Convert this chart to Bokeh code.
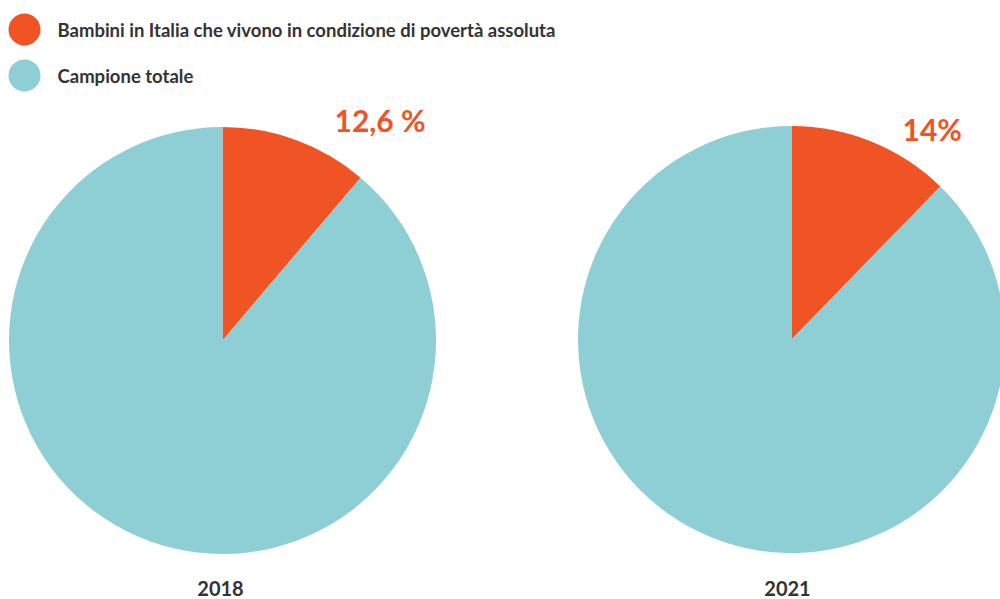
import math
from bokeh.plotting import figure
from bokeh.models import Range1d, ColumnDataSource
from bokeh.core.properties import value
from bokeh.embed import file_html
from bokeh.resources import INLINE

# ---- data ----
years = ["2018", "2021"]
poverty = [12.6, 14.0]          # Bambini in povertà assoluta
totale = [100.0, 100.0]         # Campione totale
pct_labels = ["12,6 %", "14%"]
legend_labels = ["Bambini in Italia che vivono in condizione di povertà assoluta",
                 "Campione totale"]

# ---- style ----
ORANGE = "#F15424"
TEAL = "#8ECFD5"
DARK = "#333333"
FONT = value("Lato")

W, H = 1000, 599
p = figure(width=W, height=H, output_backend="svg", toolbar_location=None,
           x_range=Range1d(0, W), y_range=Range1d(0, H),
           min_border=0, outline_line_color=None)
p.axis.visible = False
p.grid.visible = False
p.background_fill_color = "white"
p.border_fill_color = "white"

def sy(screen_y):
    return H - screen_y

centers = [(222, sy(340)), (791, sy(339))]
radius = 213.5

for i, (cx, cy) in enumerate(centers):
    tot = poverty[i] + totale[i]
    a0 = math.pi / 2
    a1 = a0 - 2 * math.pi * poverty[i] / tot
    a2 = a1 - 2 * math.pi * totale[i] / tot
    src = ColumnDataSource(dict(x=[cx, cx], y=[cy, cy], start=[a1, a2], end=[a0, a1],
                                color=[ORANGE, TEAL]))
    p.wedge(x="x", y="y", radius=radius, start_angle="start", end_angle="end",
            fill_color="color", line_color=None, source=src)

# percentage labels
lab_pos = [(334, sy(119)), (902, sy(128))]
p.text(x=[lp[0] for lp in lab_pos], y=[lp[1] for lp in lab_pos], text=pct_labels,
       text_font=FONT, text_font_style="bold", text_font_size="30px",
       text_color=ORANGE, text_align="left", text_baseline="middle")

# year labels
p.text(x=[220, 787], y=[sy(588), sy(588)], text=years,
       text_font=FONT, text_font_style="bold", text_font_size="20px",
       text_color=DARK, text_align="center", text_baseline="middle")

# legend
leg_y = [sy(29), sy(75)]
p.scatter(x=[24, 24], y=leg_y, size=32, marker="circle",
          fill_color=[ORANGE, TEAL], line_color=None)
p.text(x=[57, 57], y=leg_y, text=legend_labels,
       text_font=FONT, text_font_style="bold", text_font_size="18.5px",
       text_color=DARK, text_align="left", text_baseline="middle")

open("out.html", "w").write(file_html(p, INLINE))
